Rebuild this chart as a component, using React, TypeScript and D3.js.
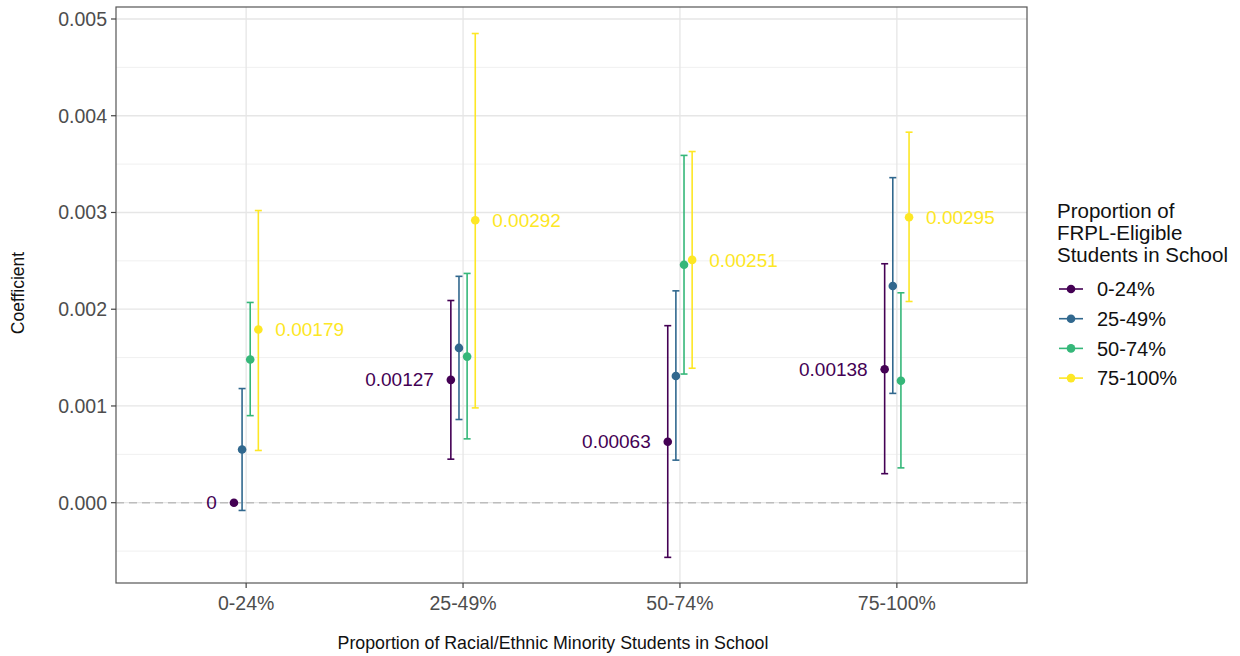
import React from 'react';
import * as d3 from 'd3';

// Racial/ethnic minority share (x axis categories)
const categories = ['0-24%', '25-49%', '50-74%', '75-100%'];
// FRPL-eligible share (legend series)
const series = ['0-24%', '25-49%', '50-74%', '75-100%'];
const colors = ['#440154', '#31688E', '#35B779', '#FDE725'];

// point estimates, one row per series, one column per category
const estimates = [
  [0, 0.00127, 0.00063, 0.00138],
  [0.00055, 0.0016, 0.00131, 0.00224],
  [0.00148, 0.00151, 0.00246, 0.00126],
  [0.00179, 0.00292, 0.00251, 0.00295],
];
const lower = [
  [0, 0.00045, -0.000565, 0.0003],
  [-0.00008, 0.00086, 0.00044, 0.00113],
  [0.0009, 0.00066, 0.00133, 0.00036],
  [0.00054, 0.00098, 0.00139, 0.00208],
];
const upper = [
  [0, 0.00209, 0.00183, 0.00247],
  [0.00118, 0.00234, 0.00219, 0.00336],
  [0.00207, 0.00237, 0.00359, 0.00217],
  [0.00302, 0.00485, 0.00363, 0.00383],
];
// which series get a value label, and on which side
const labelSide: Record<number, 'left' | 'right'> = { 0: 'left', 3: 'right' };

const yTicks = [0, 0.001, 0.002, 0.003, 0.004, 0.005];
const yMinor = [-0.0005, 0.0005, 0.0015, 0.0025, 0.0035, 0.0045];

const W = 1240;
const H = 656;
const panel = { left: 116, top: 7, right: 1027, bottom: 583 };
const font = 'Liberation Sans, Arial, Helvetica, sans-serif';

const App: React.FC = () => {
  const x = d3.scalePoint<string>()
    .domain(categories)
    .range([panel.left, panel.right])
    .padding(0.6);
  const dodgeW = x.step() * 0.15;
  const dodge = d3.scaleBand<string>()
    .domain(series)
    .range([-dodgeW / 2, dodgeW / 2]);
  const y = d3.scaleLinear()
    .domain([-0.00083, 0.005124])
    .range([panel.bottom, panel.top]);

  const cx = (ci: number, si: number) =>
    (x(categories[ci]) as number) + (dodge(series[si]) as number) + dodge.bandwidth() / 2;

  const fmtTick = d3.format('.3f');
  const fmtLabel = (v: number) => String(+v.toFixed(5));

  return (
    <svg width={W} height={H} style={{ position: 'absolute', left: 0, top: 0, fontFamily: font }}>
      <rect x={0} y={0} width={W} height={H} fill="#fff" />

      {/* grid */}
      {yMinor.map((t) => (
        <line key={'mn' + t} x1={panel.left} x2={panel.right} y1={y(t)} y2={y(t)} stroke="#f0f0f0" strokeWidth={1} />
      ))}
      {yTicks.map((t) => (
        <line key={'mj' + t} x1={panel.left} x2={panel.right} y1={y(t)} y2={y(t)} stroke="#e6e6e6" strokeWidth={1.3} />
      ))}
      {categories.map((c) => (
        <line key={'vx' + c} x1={x(c)} x2={x(c)} y1={panel.top} y2={panel.bottom} stroke="#e6e6e6" strokeWidth={1.3} />
      ))}

      {/* zero reference */}
      <line x1={panel.left} x2={panel.right} y1={y(0)} y2={y(0)} stroke="#bdbdbd" strokeWidth={1.4} strokeDasharray="8,5" />

      {/* error bars */}
      {series.map((s, si) =>
        categories.map((c, ci) => {
          const lo = lower[si][ci];
          const hi = upper[si][ci];
          if (lo === hi) return null;
          const px = cx(ci, si);
          return (
            <g key={`eb-${si}-${ci}`} stroke={colors[si]} strokeWidth={1.6}>
              <line x1={px} x2={px} y1={y(lo)} y2={y(hi)} />
              <line x1={px - 3.5} x2={px + 3.5} y1={y(lo)} y2={y(lo)} />
              <line x1={px - 3.5} x2={px + 3.5} y1={y(hi)} y2={y(hi)} />
            </g>
          );
        })
      )}

      {/* points */}
      {series.map((s, si) =>
        categories.map((c, ci) => (
          <circle key={`pt-${si}-${ci}`} cx={cx(ci, si)} cy={y(estimates[si][ci])} r={4.3} fill={colors[si]} />
        ))
      )}

      {/* value labels */}
      {series.map((s, si) => {
        const side = labelSide[si];
        if (!side) return null;
        return categories.map((c, ci) => {
          const px = cx(ci, si);
          return (
            <text
              key={`lb-${si}-${ci}`}
              x={side === 'left' ? px - 17 : px + 17}
              y={y(estimates[si][ci])}
              dy="0.35em"
              textAnchor={side === 'left' ? 'end' : 'start'}
              fill={colors[si]}
              fontSize={19}
            >
              {fmtLabel(estimates[si][ci])}
            </text>
          );
        });
      })}

      {/* panel border */}
      <rect x={panel.left} y={panel.top} width={panel.right - panel.left} height={panel.bottom - panel.top} fill="none" stroke="#555" strokeWidth={1.2} />

      {/* y axis */}
      {yTicks.map((t) => (
        <g key={'yt' + t}>
          <line x1={panel.left - 5} x2={panel.left} y1={y(t)} y2={y(t)} stroke="#444" strokeWidth={1.2} />
          <text x={panel.left - 9} y={y(t)} dy="0.36em" textAnchor="end" fill="#4d4d4d" fontSize={19.5}>
            {fmtTick(t)}
          </text>
        </g>
      ))}
      <text transform={`translate(24,${(panel.top + panel.bottom) / 2 - 2}) rotate(-90)`} textAnchor="middle" fill="#111" fontSize={17.5}>
        Coefficient
      </text>

      {/* x axis */}
      {categories.map((c) => (
        <g key={'xt' + c}>
          <line x1={x(c)} x2={x(c)} y1={panel.bottom} y2={panel.bottom + 5} stroke="#444" strokeWidth={1.2} />
          <text x={x(c)} y={panel.bottom + 27} textAnchor="middle" fill="#4d4d4d" fontSize={19.5}>
            {c}
          </text>
        </g>
      ))}
      <text x={553} y={649} textAnchor="middle" fill="#111" fontSize={17.8}>
        Proportion of Racial/Ethnic Minority Students in School
      </text>

      {/* legend */}
      <g transform="translate(1057,0)">
        {['Proportion of', 'FRPL-Eligible', 'Students in School'].map((t, i) => (
          <text key={t} x={0} y={218 + i * 22} fill="#111" fontSize={20.5}>
            {t}
          </text>
        ))}
        {series.map((s, si) => {
          const ly = 289 + si * 29.7;
          return (
            <g key={'lg' + s}>
              <line x1={2} x2={26} y1={ly} y2={ly} stroke={colors[si]} strokeWidth={1.6} />
              <circle cx={14} cy={ly} r={4.3} fill={colors[si]} />
              <text x={40} y={ly} dy="0.36em" fill="#111" fontSize={20}>
                {s}
              </text>
            </g>
          );
        })}
      </g>
    </svg>
  );
};

export default App;
